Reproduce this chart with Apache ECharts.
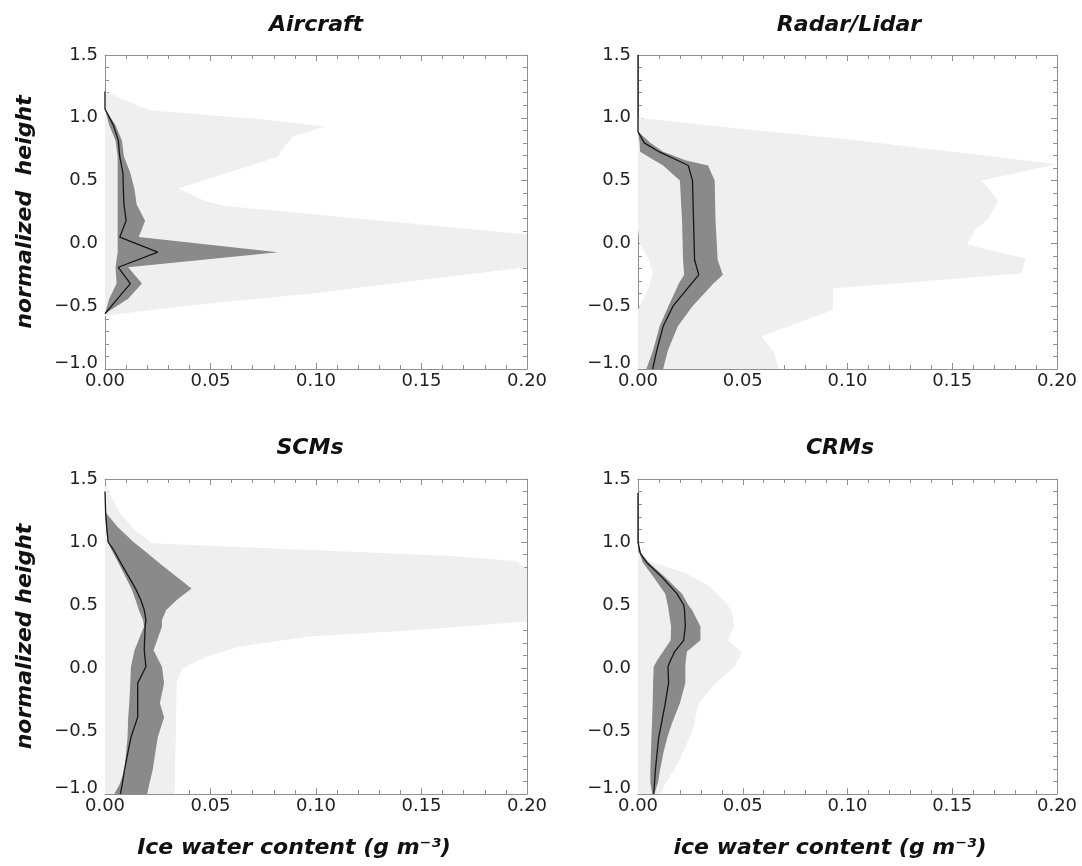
<!DOCTYPE html>
<html><head><meta charset="utf-8">
<script src="https://cdn.jsdelivr.net/npm/echarts@6/dist/echarts.min.js"></script>
<style>html,body{margin:0;padding:0;background:#fff}#c{width:1082px;height:866px}</style>
</head><body><div id="c"></div>
<script>
// ---------- Aircraft ----------
const acLightH  = [1.21, 1.06, 0.99, 0.93, 0.85, 0.75, 0.69, 0.44, 0.34, 0.30, 0.07, -0.05, -0.19, -0.32, -0.40, -0.48, -0.56, -0.58];
const acLightLo = [0, 0, 0, 0, 0, 0, 0, 0, 0, 0, 0, 0, 0, 0, 0, 0, 0, 0];
const acLightHi = [0.000, 0.021, 0.073, 0.104, 0.089, 0.084, 0.082, 0.035, 0.047, 0.056, 0.200, 0.200, 0.200, 0.136, 0.097, 0.048, 0.007, 0.000];
const acH      = [1.21, 1.07, 0.94, 0.82, 0.69, 0.56, 0.43, 0.31, 0.18, 0.05, -0.07, -0.19, -0.32, -0.44, -0.56];
const acDarkLo = [0, 0.000, 0.002, 0.005, 0.006, 0.006, 0.006, 0.006, 0.006, 0.006, 0.006, 0.005, 0.0055, 0.002, 0.000];
const acDarkHi = [0, 0.000, 0.005, 0.008, 0.009, 0.012, 0.014, 0.015, 0.019, 0.016, 0.082, 0.011, 0.0175, 0.011, 0.000];
const acMedian = [0, 0.000, 0.004, 0.0063, 0.007, 0.0085, 0.0087, 0.009, 0.010, 0.007, 0.025, 0.0063, 0.012, 0.006, 0.000];

// ---------- Radar/Lidar ----------
const rlLightH  = [1.00, 0.91, 0.83, 0.73, 0.63, 0.50, 0.34, 0.19, 0.11, -0.01, -0.12, -0.24, -0.36, -0.53, -0.74, -0.87, -1.00];
const rlLightLo = [0, 0, 0, 0, 0, 0, 0, 0, 0, 0.001, 0.005, 0.007, 0.005, 0.000, 0, 0, 0];
const rlLightHi = [0.000, 0.050, 0.100, 0.150, 0.200, 0.164, 0.172, 0.167, 0.161, 0.157, 0.185, 0.183, 0.093, 0.093, 0.059, 0.065, 0.067];
const rlH      = [1.50, 0.89, 0.80, 0.73, 0.66, 0.62, 0.50, 0.19, -0.13, -0.25, -0.32, -0.50, -0.66, -0.85, -1.00];
const rlDarkLo = [0, 0, 0.0008, 0.001, 0.008, 0.012, 0.020, 0.021, 0.0215, 0.022, 0.0195, 0.0145, 0.0103, 0.0072, 0.004];
const rlDarkHi = [0, 0, 0.006, 0.012, 0.023, 0.0334, 0.0366, 0.037, 0.038, 0.0405, 0.036, 0.026, 0.019, 0.0143, 0.012];
const rlMedian = [0, 0, 0.003, 0.010, 0.019, 0.024, 0.026, 0.0265, 0.027, 0.029, 0.0255, 0.0167, 0.012, 0.009, 0.007];

// ---------- SCMs ----------
const scLightH  = [1.45, 1.23, 1.10, 0.99, 0.89, 0.85, 0.78, 0.37, 0.30, 0.25, 0.17, 0.09, 0.00, -0.11, -1.00];
const scLightLo = [0, 0, 0, 0, 0, 0, 0, 0, 0, 0, 0, 0, 0, 0, 0];
const scLightHi = [0.000, 0.007, 0.014, 0.022, 0.162, 0.195, 0.200, 0.200, 0.146, 0.097, 0.064, 0.048, 0.037, 0.034, 0.033];
const scH      = [1.40, 1.23, 1.12, 1.00, 0.94, 0.83, 0.63, 0.54, 0.46, 0.38, 0.33, 0.14, 0.01, -0.12, -0.28, -0.39, -0.55, -0.81, -0.92, -1.00];
const scDarkLo = [0, 0, 0.0005, 0.0013, 0.003, 0.0065, 0.0125, 0.0145, 0.016, 0.018, 0.0185, 0.014, 0.0123, 0.012, 0.0115, 0.011, 0.0107, 0.0092, 0.007, 0.0044];
const scDarkHi = [0, 0.0005, 0.006, 0.0135, 0.018, 0.026, 0.041, 0.034, 0.029, 0.027, 0.027, 0.023, 0.027, 0.028, 0.026, 0.028, 0.025, 0.0226, 0.021, 0.020];
const scMedian = [0, 0.0003, 0.0008, 0.0015, 0.004, 0.0076, 0.0145, 0.017, 0.0186, 0.0194, 0.019, 0.0186, 0.0194, 0.0155, 0.0155, 0.0155, 0.0123, 0.0092, 0.0082, 0.0073];

// ---------- CRMs ----------
const crLightH  = [0.92, 0.86, 0.75, 0.65, 0.52, 0.44, 0.33, 0.22, 0.12, 0.01, -0.12, -0.28, -0.50, -0.76, -0.92, -1.00];
const crLightLo = [0, 0, 0, 0, 0, 0, 0, 0, 0, 0, 0, 0, 0, 0, 0, 0];
const crLightHi = [0.000, 0.004, 0.023, 0.034, 0.042, 0.045, 0.0457, 0.043, 0.0496, 0.046, 0.037, 0.029, 0.026, 0.019, 0.013, 0.0107];
const crH      = [1.39, 1.00, 0.91, 0.84, 0.72, 0.59, 0.50, 0.46, 0.33, 0.22, 0.13, 0.06, 0.01, -0.12, -0.28, -0.44, -0.55, -0.66, -0.81, -0.91, -1.00];
const crDarkLo = [0, 0, 0.0008, 0.0022, 0.0075, 0.013, 0.0142, 0.0146, 0.0158, 0.0156, 0.012, 0.0091, 0.0075, 0.0072, 0.007, 0.0067, 0.0064, 0.0062, 0.0059, 0.0059, 0.0068];
const crDarkHi = [0, 0, 0.0015, 0.005, 0.013, 0.021, 0.024, 0.0258, 0.0298, 0.0298, 0.0234, 0.0228, 0.0226, 0.0226, 0.020, 0.0162, 0.014, 0.0123, 0.0105, 0.0095, 0.0078];
const crMedian = [0, 0, 0.0011, 0.004, 0.0115, 0.0186, 0.0218, 0.0222, 0.0226, 0.0218, 0.0175, 0.0155, 0.0143, 0.0146, 0.013, 0.0112, 0.0099, 0.0092, 0.0083, 0.0079, 0.0075];

// ---------- text & axes ----------
const titles = ['Aircraft', 'Radar/Lidar', 'SCMs', 'CRMs'];
const yNames = ['normalized  height', '', 'normalized height', ''];
const xNames = ['', '', 'Ice water content (g m\u207B\u00B3)', 'ice water content (g m\u207B\u00B3)'];
const xMin = 0, xMax = 0.2, xStep = 0.05;
const yMin = -1.0, yMax = 1.5, yStep = 0.5;

const panels = [
  {lH: acLightH, lLo: acLightLo, lHi: acLightHi, H: acH, dLo: acDarkLo, dHi: acDarkHi, med: acMedian},
  {lH: rlLightH, lLo: rlLightLo, lHi: rlLightHi, H: rlH, dLo: rlDarkLo, dHi: rlDarkHi, med: rlMedian},
  {lH: scLightH, lLo: scLightLo, lHi: scLightHi, H: scH, dLo: scDarkLo, dHi: scDarkHi, med: scMedian},
  {lH: crLightH, lLo: crLightLo, lHi: crLightHi, H: crH, dLo: crDarkLo, dHi: crDarkHi, med: crMedian}
];

const grids = [
  {left: 105, top: 55, width: 422, height: 314},
  {left: 638, top: 55, width: 419, height: 314},
  {left: 105, top: 479, width: 422, height: 315},
  {left: 638, top: 479, width: 419, height: 315}
];
const titlePos = [[316, 14], [849, 14], [310, 437], [840, 437]];
const xNamePad = [0, 0, 44, 35];

const FRAME = '#909090';
const TXT = '#222';
const FONT = 'DejaVu Sans';
const LIGHT = '#efefef';
const DARK = '#8a8a8a';
const LINE = '#161616';

function fmtY(v) {
  const s = (v < 0 ? '\u2212' : '') + Math.abs(v).toFixed(1);
  return v <= yMin + 1e-9 ? '{lo|' + s + '}' : s;
}

const xAxis = [], yAxis = [], series = [], title = [];
grids.forEach((g, i) => {
  const tickCommon = {show: true, inside: true, length: 6, lineStyle: {color: FRAME, width: 1}};
  const minorCommon = {show: true, splitNumber: 5, length: 4, lineStyle: {color: FRAME, width: 1}};
  const lineCommon = {show: true, onZero: false, lineStyle: {color: FRAME, width: 1}};
  xAxis.push({
    gridIndex: i, type: 'value', position: 'bottom', min: xMin, max: xMax, interval: xStep,
    axisLine: lineCommon, axisTick: tickCommon, minorTick: minorCommon,
    splitLine: {show: false}, minorSplitLine: {show: false},
    axisLabel: {show: true, margin: 3, color: TXT, fontFamily: FONT, fontSize: 18, formatter: v => v.toFixed(2)},
    name: xNames[i], nameLocation: 'middle', nameGap: 54,
    nameTextStyle: {fontFamily: FONT, fontSize: 22, fontWeight: 'bold', fontStyle: 'italic', color: '#111',
      align: 'center', verticalAlign: 'middle', padding: [0, xNamePad[i], 0, 0]}
  });
  xAxis.push({
    gridIndex: i, type: 'value', position: 'top', min: xMin, max: xMax, interval: xStep,
    axisLine: lineCommon, axisTick: tickCommon, minorTick: minorCommon,
    splitLine: {show: false}, minorSplitLine: {show: false}, axisLabel: {show: false}
  });
  yAxis.push({
    gridIndex: i, type: 'value', position: 'left', min: yMin, max: yMax, interval: yStep,
    axisLine: lineCommon, axisTick: tickCommon, minorTick: minorCommon,
    splitLine: {show: false}, minorSplitLine: {show: false},
    axisLabel: {show: true, margin: 7, color: TXT, fontFamily: FONT, fontSize: 18, formatter: fmtY,
      rich: {lo: {color: TXT, fontFamily: FONT, fontSize: 18, padding: [0, 0, 12, 0]}}},
    name: yNames[i], nameLocation: 'middle', nameGap: 80, nameRotate: 90,
    nameTextStyle: {fontFamily: FONT, fontSize: 22, fontWeight: 'bold', fontStyle: 'italic', color: '#111',
      align: 'center', verticalAlign: 'middle'}
  });
  yAxis.push({
    gridIndex: i, type: 'value', position: 'right', min: yMin, max: yMax, interval: yStep,
    axisLine: lineCommon, axisTick: tickCommon, minorTick: minorCommon,
    splitLine: {show: false}, minorSplitLine: {show: false}, axisLabel: {show: false}
  });
  title.push({
    text: titles[i], left: titlePos[i][0], top: titlePos[i][1], textAlign: 'center', padding: 0,
    textStyle: {fontFamily: FONT, fontSize: 22, fontWeight: 'bold', fontStyle: 'italic', color: '#111'}
  });

  const p = panels[i];
  const band = (H, lo, hi, color, z) => ({
    type: 'custom', xAxisIndex: 2 * i, yAxisIndex: 2 * i, clip: true, silent: true, z: z,
    data: [[0, 0]],
    renderItem: function (params, api) {
      const pts = [];
      for (let k = 0; k < H.length; k++) pts.push(api.coord([lo[k], H[k]]));
      for (let k = H.length - 1; k >= 0; k--) pts.push(api.coord([hi[k], H[k]]));
      return {type: 'polygon', shape: {points: pts}, style: {fill: color, stroke: null}};
    }
  });
  series.push(band(p.lH, p.lLo, p.lHi, LIGHT, 1));
  series.push(band(p.H, p.dLo, p.dHi, DARK, 2));
  series.push({
    type: 'line', xAxisIndex: 2 * i, yAxisIndex: 2 * i, z: 3, silent: true,
    symbol: 'none', clip: true,
    lineStyle: {color: LINE, width: 1.3},
    data: p.H.map((h, k) => [p.med[k], h])
  });
});

const chart = echarts.init(document.getElementById('c'), null, {renderer: 'canvas'});
chart.setOption({
  animation: false,
  backgroundColor: '#ffffff',
  title: title,
  grid: grids.map(g => Object.assign({containLabel: false}, g)),
  xAxis: xAxis,
  yAxis: yAxis,
  series: series
});
</script>
</body></html>
